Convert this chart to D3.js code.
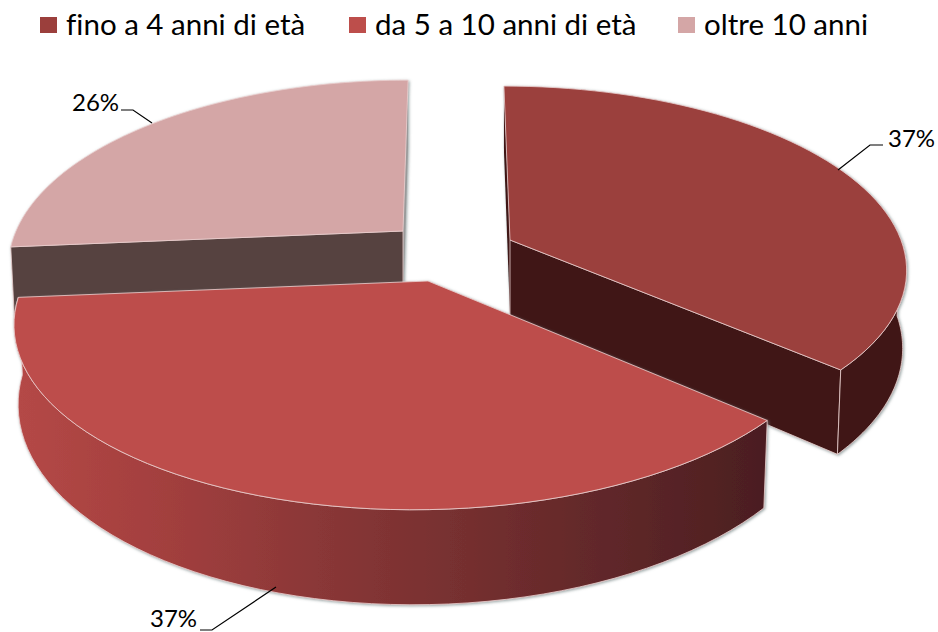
<!DOCTYPE html>
<html><head><meta charset="utf-8">
<script src="https://cdn.jsdelivr.net/npm/d3@7/dist/d3.min.js"></script>
<style>html,body{margin:0;padding:0;background:#fff}svg{display:block}text{font-family:Lato,"Open Sans",sans-serif;fill:#000;font-variant-ligatures:none}</style>
</head><body><svg id="c" width="938" height="632"></svg>
<script>
const categories = ["fino a 4 anni di età", "da 5 a 10 anni di età", "oltre 10 anni"];
const values = [36.5, 37.1, 26.4];
const topColors = ["#9B3F3C", "#BD4E4B", "#D4A6A6"];
const wallColors = ["#3F1816", "url(#side2)", "#564340"];
const backWallColors = ["#3F1816", null, "#9a9a9a"];
const legendX = [40, 349, 678];

// per-slice placement in the exploded, perspective view
const place = [
  {ax: 510, ay: 240, R: 391, k: .15, ky: 177, lean: 7},
  {ax: 428, ay: 281, R: 403, k: .20, ky: 183, lean: -12},
  {ax: 403, ay: 231, R: 387, k: .18, ky: 178, lean: -6}
];
const depth = 76, shrink = .99;

const svg = d3.select("#c");
const defs = svg.append("defs");
const grad = defs.append("linearGradient").attr("id", "side2")
  .attr("gradientUnits", "userSpaceOnUse").attr("x1", 19).attr("x2", 765).attr("y1", 0).attr("y2", 0);
[[0, "#B44846"], [.2, "#A23F3E"], [.4, "#8A3737"], [.6, "#752F2F"], [.8, "#5F2729"], [1, "#4B1E20"]]
  .forEach(([o, c]) => grad.append("stop").attr("offset", o).attr("stop-color", c));
const f = defs.append("filter").attr("id", "sh").attr("x", "-5%").attr("y", "-5%").attr("width", "110%").attr("height", "110%");
f.append("feDropShadow").attr("dx", 1).attr("dy", 1).attr("stdDeviation", 1.6).attr("flood-color", "#6f8080").attr("flood-opacity", .75);

const arcs = d3.pie().sort(null).value(d => d)(values);

function project(p, a, r, z) {
  const u = Math.sin(a) * r, v = -Math.cos(a) * r;
  const s = 1 / (1 - p.k * v);
  const x = s * (p.R * u + p.lean * v);
  const y = s * p.ky * v;
  return z ? [p.ax + x * shrink, p.ay + y + depth * s] : [p.ax + x, p.ay + y];
}
const line = d3.line();
const closed = pts => line(pts) + "Z";
const sweep = (a0, a1) => d3.range(0, 61).map(d3.scaleLinear([0, 60], [a0, a1]));
const frontFrom = Math.PI / 2, frontTo = 3 * Math.PI / 2;

const order = [2, 0, 1];
const edge = "#EBCFCF";
order.forEach(i => {
  const d = arcs[i], p = place[i];
  const g = svg.append("g").attr("filter", "url(#sh)");
  const angles = sweep(d.startAngle, d.endAngle);
  const topRim = angles.map(a => project(p, a, 1, false));
  const wallQuad = a => closed([
    project(p, a, 0, false), project(p, a, 1, false),
    project(p, a, 1, true), project(p, a, 0, true)
  ]);
  if (i !== 1) {
    const back = i === 0 ? d.startAngle : d.endAngle;
    const front = i === 0 ? d.endAngle : d.startAngle;
    g.append("path").attr("d", wallQuad(back)).attr("fill", backWallColors[i]);
    g.append("path").attr("d", wallQuad(front)).attr("fill", wallColors[i])
      .attr("stroke", edge).attr("stroke-width", .8);
  }
  const a0 = Math.max(d.startAngle, frontFrom), a1 = Math.min(d.endAngle, frontTo);
  if (a1 > a0 && a1 - a0 > .2) {
    const fa = sweep(a0, a1);
    g.append("path").attr("d", closed(fa.map(a => project(p, a, 1, false))
      .concat(fa.map(a => project(p, a, 1, true)).reverse())))
      .attr("fill", wallColors[i]).attr("stroke", edge).attr("stroke-width", .8);
  }
  g.append("path").attr("d", closed([[p.ax, p.ay]].concat(topRim)))
    .attr("fill", topColors[i]).attr("stroke", edge).attr("stroke-width", .8);
});

// legend
categories.forEach((c, i) => {
  svg.append("rect").attr("x", legendX[i]).attr("y", 17).attr("width", 17).attr("height", 16).attr("fill", topColors[i]);
  svg.append("text").attr("x", legendX[i] + 26).attr("y", 35).attr("font-size", 29.5).text(c);
});

// data labels + leaders
const labelX = [888, 150, 72], labelY = [147, 627, 111];
const leaders = [
  [[838, 170], [870, 145], [883, 145]],
  [[276, 587], [212, 630], [200, 630]],
  [[152, 123], [133, 110], [121, 110]]
];
const fmt = d3.format(".0f");
values.forEach((v, i) => {
  svg.append("path").attr("d", line(leaders[i])).attr("fill", "none").attr("stroke", "#000").attr("stroke-width", 1.2);
  svg.append("text").attr("x", labelX[i]).attr("y", labelY[i]).attr("font-size", 24).text(fmt(v) + "%");
});
</script></body></html>
